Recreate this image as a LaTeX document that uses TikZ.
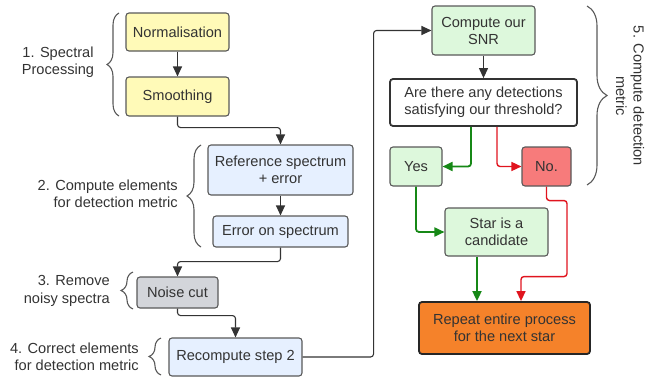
\documentclass[tikz,border=0pt]{standalone}
\usepackage{fontspec}
\setmainfont{Liberation Sans}
\usepackage{tikz}
\usetikzlibrary{arrows.meta, positioning, calc, decorations.pathreplacing}

\definecolor{txtgrey}{HTML}{333333}
\definecolor{edgegrey}{HTML}{595959}
\definecolor{yellowbox}{HTML}{FFFAB8}
\definecolor{bluebox}{HTML}{E6F0FF}
\definecolor{greenbox}{HTML}{DDF8DC}
\definecolor{greybox}{HTML}{D3D5DA}
\definecolor{redbox}{HTML}{F77B7B}
\definecolor{orangebox}{HTML}{F5822A}
\definecolor{yesgreen}{HTML}{168816}
\definecolor{nored}{HTML}{E0141E}

\tikzset{
    box/.style={draw=edgegrey, line width=1.1pt, rounded corners=3pt, align=center,
        text=txtgrey, inner sep=2pt, font=\fontsize{14.6}{17}\selectfont},
    flow/.style={-{Triangle[length=10pt,width=9pt]}, line width=1.1pt, draw=txtgrey, rounded corners=3pt},
    bracegrp/.style={decorate, draw=edgegrey, line width=1.1pt},
    grplabel/.style={text=txtgrey, inner sep=0pt, font=\fontsize{14.6}{17.5}\selectfont}
}

\begin{document}
\begin{tikzpicture}[x=1pt, y=-1pt]
    \useasboundingbox (0,0) rectangle (664,380);

    % Step 1
    \node[box, fill=yellowbox, minimum width=103pt, minimum height=38pt] (normal) at (177.5,32) {Normalisation};
    \node[box, fill=yellowbox, minimum width=103pt, minimum height=39pt] (smooth) at (177.5,96.5) {Smoothing};

    % Step 2
    \node[box, fill=bluebox, minimum width=145pt, minimum height=50pt] (refspec) at (280.5,170) {Reference spectrum\\+ error};
    \node[box, fill=bluebox, minimum width=135pt, minimum height=31pt] (errspec) at (280.5,231.5) {Error on spectrum};

    % Steps 3 and 4
    \node[box, fill=greybox, minimum width=81pt, minimum height=31pt] (noise) at (177.5,292.5) {Noise cut};
    \node[box, fill=bluebox, minimum width=133pt, minimum height=38pt] (recomp) at (235.5,357) {Recompute step 2};

    % Step 5
    \node[box, fill=greenbox, minimum width=103pt, minimum height=49pt] (snr) at (483.5,30.5) {Compute our\\SNR};
    \node[box, fill=white, draw=txtgrey, line width=1.8pt, minimum width=187pt, minimum height=47pt] (question) at (483.5,102.5) {Are there any detections\\satisfying our threshold?};
    \node[box, fill=greenbox, minimum width=52pt, minimum height=39pt] (yes) at (416,166.5) {Yes};
    \node[box, fill=redbox, minimum width=49pt, minimum height=39pt] (no) at (546.5,166.5) {No.};
    \node[box, fill=greenbox, minimum width=103pt, minimum height=48pt] (star) at (496.5,232) {Star is a\\candidate};
    \node[box, fill=orangebox, draw=black!85, line width=1.8pt, minimum width=171pt, minimum height=52pt] (repeat) at (504.5,328) {Repeat entire process\\for the next star};

    % Connections
    \draw[flow] (normal) -- (smooth);
    \draw[flow] (smooth.south) -- ++(0,11) -| (refspec.north);
    \draw[flow] (refspec) -- (errspec);
    \draw[flow] (errspec.south) -- ++(0,14) -| (noise.north);
    \draw[flow] (noise.south) -- ++(0,7) -| (recomp.north);
    \draw[flow] (recomp.east) -- ++(71,0) |- (snr.west);
    \draw[flow] (snr) -- (question);
    \draw[flow, draw=yesgreen, line width=1.8pt] ([xshift=-12.5pt]question.south) |- (yes.east);
    \draw[flow, draw=nored, line width=1.4pt] ([xshift=13.5pt]question.south) |- (no.west);
    \draw[flow, draw=yesgreen, line width=1.8pt] (yes.south) |- (star.west);
    \coordinate (stardown) at ([xshift=-19.5pt]star.south);
    \draw[flow, draw=yesgreen, line width=1.8pt] (stardown) -- (stardown |- repeat.north);
    \draw[flow, draw=nored, line width=1.4pt] (no.south) -- ++(0,14) -- ++(20.5,0) -- ++(0,76) -| ([xshift=16.5pt]repeat.north);

    % Braces and group labels
    \draw[bracegrp, decoration={brace, amplitude=12pt}] (119,116) -- (119,13);
    \draw[bracegrp, decoration={brace, amplitude=14pt}] (201,247) -- (201,145);
    \draw[bracegrp, decoration={brace, amplitude=12pt}] (133,309) -- (133,272);
    \draw[bracegrp, decoration={brace, amplitude=12pt}] (161,375) -- (161,338);
    \draw[bracegrp, decoration={brace, amplitude=20pt}] (587,6) -- (587,185);

    \node[grplabel, align=center] (lab1) at (58,62) {1. Spectral\\Processing};
    \node[grplabel, align=right, anchor=east] (lab2) at (178,194) {2. Compute elements\\for detection metric};
    \node[grplabel, align=right, anchor=east] (lab3) at (110,291) {3. Remove\\noisy spectra};
    \node[grplabel, align=right, anchor=east] (lab4) at (139,357) {4. Correct elements\\for detection metric};
    \node[grplabel, align=center, rotate=-90] (lab5) at (630,96) {5. Compute detection\\metric};
\end{tikzpicture}
\end{document}
